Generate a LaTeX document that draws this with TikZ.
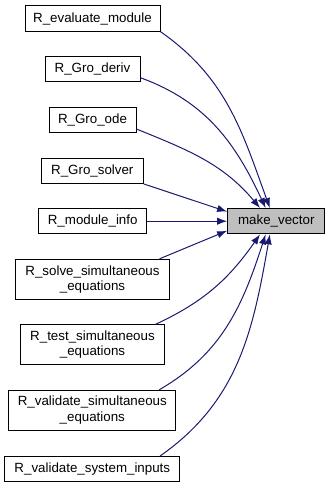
\documentclass[tikz,border=0pt]{standalone}
\usepackage{fontspec}
\setmainfont{Liberation Sans}
\usetikzlibrary{arrows.meta}

\definecolor{edgeblue}{HTML}{191970}
\definecolor{focusgray}{HTML}{BFBFBF}

\begin{document}
\begin{tikzpicture}[
		x=0.75pt, y=0.75pt,
		>={Latex[length=7.5pt,width=5.5pt]},
		fn/.style={draw=black, line width=0.75pt, fill=white, inner sep=0pt,
			minimum height=19pt, align=center, font=\fontsize{10pt}{11.5pt}\selectfont},
		fn2/.style={fn, minimum height=30pt},
		focus/.style={fn, fill=focusgray},
		call/.style={->, draw=edgeblue, line width=0.75pt},
	]
	\useasboundingbox (0,0) rectangle (331,-488);
	% the called function
	\node[focus, minimum width=73pt] (mv) at (276.3,-221.2) {make\_vector};
	% its callers
	\node[fn, minimum width=101.25pt] (eval) at (92.5,-18.5) {R\_evaluate\_module};
	\node[fn, minimum width=71.25pt] (deriv) at (92.5,-69.3) {R\_Gro\_deriv};
	\node[fn, minimum width=65.25pt] (ode) at (92.5,-119.7) {R\_Gro\_ode};
	\node[fn, minimum width=76.5pt] (solver) at (92.3,-170.8) {R\_Gro\_solver};
	\node[fn, minimum width=81pt] (info) at (92.7,-221.2) {R\_module\_info};
	\node[fn2, minimum width=115.2pt] (solve) at (92.5,-279.3) {R\_solve\_simultaneous\\\_equations};
	\node[fn2, minimum width=108.3pt] (test) at (92.5,-344.8) {R\_test\_simultaneous\\\_equations};
	\node[fn2, minimum width=125.5pt] (vsim) at (92.3,-410.2) {R\_validate\_simultaneous\\\_equations};
	\node[fn, minimum width=131.5pt] (vsys) at (92.3,-469.2) {R\_validate\_system\_inputs};
	% calls
	\draw[call] (eval.south east) to[out=-35, in=110] (mv.116);
	\draw[call] (deriv.-10) to[out=-20, in=115] (mv.129);
	\draw[call] (ode.-12) to[out=-22, in=130] (mv.141);
	\draw[call] (solver.south east) -- (mv.169.5);
	\draw[call] (info) -- (mv);
	\draw[call] (solve.17) -- (mv.191.6);
	\draw[call] (test.18) to[out=25, in=-125] (mv.219);
	\draw[call] (vsim.17) to[out=30, in=-108] (mv.231);
	\draw[call] (vsys.11) to[out=35, in=-100] (mv.244);
\end{tikzpicture}
\end{document}
